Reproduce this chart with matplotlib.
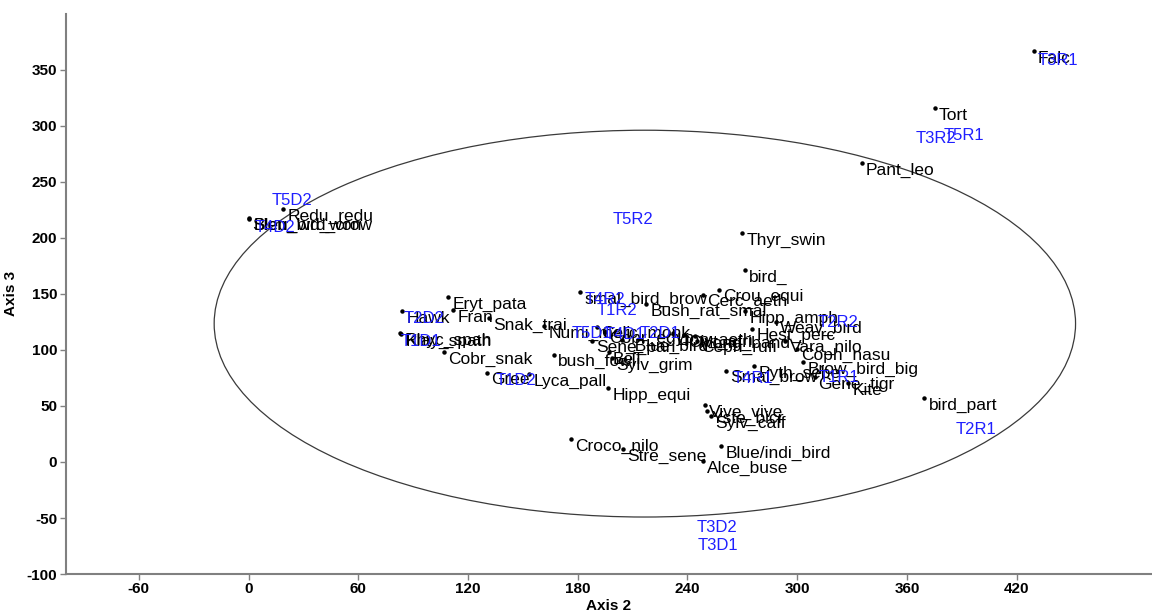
import matplotlib
matplotlib.use("Agg")
import matplotlib.pyplot as plt
from matplotlib.patches import Ellipse

plt.rcParams['font.family'] = ['Liberation Sans', 'DejaVu Sans']
plt.rcParams['axes.unicode_minus'] = False

# species scores (axis 2, axis 3)
sp_names = ["Falc", "Tort", "Pant_leo", "Redu_redu", "Slen_bird_crow", "Bleu_wd_won",
            "Eryt_pata", "Fran", "Hawk", "Snak_trai", "Rhyc_spah", "Klay_spath",
            "Cobr_snak", "Gree", "Lyca_pall", "bush_fowl", "Hipp_equi", "Sylv_grim",
            "BeT", "Sene_pari", "Numi_meli", "Cerc_monk", "Cobr_egyp", "_Blue_bird",
            "smal_bird_brow", "Bush_rat_smal", "Cerc_aeth", "Crou_equi", "Thyr_swin",
            "bird_", "Hipp_amph", "Weav_bird", "Hest_perc", "Lion_aeth", "Civt_afri",
            "Mong_band", "Ceph_rufi", "Vara_nilo", "Coph_nasu", "Pyth_sebe",
            "Brow_bird_big", "Gene_tigr", "Kite", "Smal_brow", "Vive_vive", "Yste_bicr",
            "Sylv_caff", "Croco_nilo", "Stre_sene", "Alce_buse", "Blue/indi_bird",
            "bird_part"]
sp_x = [429.3, 375.1, 335.2, 19.0, 0.0, 0.5,
        109.2, 112.0, 84.0, 131.6, 83.0, 83.5,
        107.0, 130.6, 153.6, 167.2, 196.7, 199.0,
        197.0, 188.0, 161.8, 190.8, 195.0, 204.0,
        181.4, 217.5, 248.7, 257.4, 270.0,
        271.6, 271.6, 288.6, 275.5, 232.0, 238.0,
        244.0, 245.4, 293.6, 300.0, 276.6,
        303.3, 309.5, 328.0, 261.2, 249.7, 250.8,
        253.0, 176.5, 204.8, 248.6, 258.5,
        369.6]
sp_y = [366.3, 315.5, 266.5, 225.4, 217.2, 217.0,
        147.0, 135.4, 134.6, 128.4, 115.0, 114.0,
        98.0, 79.5, 78.4, 95.5, 66.0, 92.7,
        98.0, 108.3, 121.0, 120.5, 116.0, 109.0,
        151.5, 140.8, 149.0, 153.5, 204.2,
        171.2, 134.7, 125.0, 118.8, 115.0, 113.0,
        112.0, 108.0, 108.0, 101.0, 85.6,
        89.1, 75.7, 70.4, 81.3, 50.7, 45.5,
        41.0, 20.3, 11.6, 0.9, 14.3,
        57.1]

# sample scores
st_names = ["T3R1", "T3R2", "T5R1", "T5R2", "T5D2", "T4D2", "T2D2", "T1D1", "T1D2",
            "T4R2", "T1R2", "T5D1", "T4D1", "T2D1", "T2R2", "T4R1", "T1R1", "T2R1",
            "T3D2", "T3D1"]
st_x = [442.4, 375.7, 391.0, 210.4, 23.9, 14.6, 96.1, 94.5, 146.0,
        195.1, 201.7, 188.0, 206.0, 225.0, 322.6, 275.6, 322.6, 397.6,
        256.4, 256.4]
st_y = [358.3, 288.8, 291.5, 216.6, 233.6, 209.5, 128.4, 107.9, 72.3,
        145.3, 135.5, 115.0, 114.0, 115.0, 124.0, 74.1, 75.0, 28.6,
        -58.8, -74.9]

fig = plt.figure(figsize=(11.52, 6.14), dpi=100)
ax = fig.add_axes([0.057, 0.065, 0.943, 0.913])

ax.add_patch(Ellipse((216.7, 123.4), 471, 345, fill=False, color='#3a3a3a', lw=0.9))

ax.plot(sp_x, sp_y, 'o', color='black', markersize=2.2, zorder=3)
for n, x, y in zip(sp_names, sp_x, sp_y):
    ax.annotate(n, (x, y), xytext=(4, -7), textcoords='offset pixels',
                ha='left', va='center', fontsize=12.5, color='black')

for n, x, y in zip(st_names, st_x, st_y):
    ax.text(x, y, n, ha='center', va='center', fontsize=12, color='#1f1fff')

ax.set_xlim(-100, 494)
ax.set_ylim(-100, 400)
ax.set_xticks(range(-60, 421, 60))
ax.set_yticks(range(-100, 351, 50))
for s in ['top', 'right']:
    ax.spines[s].set_visible(False)
for s in ['left', 'bottom']:
    ax.spines[s].set_color('#808080')
    ax.spines[s].set_linewidth(1.5)
ax.tick_params(direction='out', length=4, width=1, color='#808080',
               labelsize=11, pad=2)
for lab in ax.get_xticklabels() + ax.get_yticklabels():
    lab.set_fontweight('bold')

ax.set_xlabel("Axis 2", fontsize=11, fontweight='bold', labelpad=2)
ax.set_ylabel("Axis 3", fontsize=11, fontweight='bold', labelpad=6)

fig.savefig("out.png", dpi=100)
